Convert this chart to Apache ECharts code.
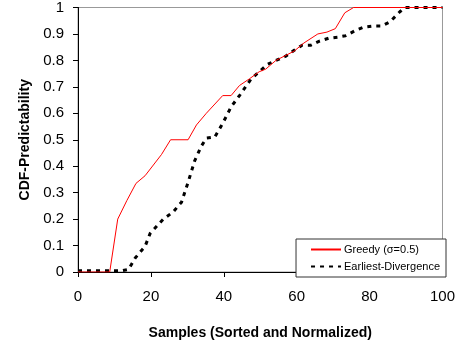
<!DOCTYPE html>
<html><head><meta charset="utf-8">
<script src="https://cdn.jsdelivr.net/npm/echarts@6/dist/echarts.min.js"></script>
<style>html,body{margin:0;padding:0;background:#fff}#c{width:458px;height:345px}</style>
</head><body><div id="c"></div>
<script>
const xTicks = [0, 20, 40, 60, 80, 100];
const yTicks = [0, 0.1, 0.2, 0.3, 0.4, 0.5, 0.6, 0.7, 0.8, 0.9, 1];
const greedyX = [0, 8.7, 10.9, 13.4, 15.9, 18.4, 22.9, 25.4, 30.2, 32.5, 35.2, 39.7, 42.0, 44.3, 47.0, 49.7, 51.5, 54.3, 59.3, 62.0, 65.8, 68.3, 70.6, 73.2, 75.6, 100];
const greedyY = [0, 0, 0.2, 0.27, 0.335, 0.364, 0.444, 0.5, 0.5, 0.556, 0.6, 0.667, 0.667, 0.705, 0.73, 0.757, 0.767, 0.80, 0.835, 0.866, 0.90, 0.907, 0.92, 0.98, 1.0, 1.0];
const earliestX = [0, 12.0, 13.9, 15.7, 18.4, 19.8, 23.4, 26.1, 28.4, 30.2, 32.0, 33.8, 35.2, 37.5, 39.7, 42.0, 44.3, 47.5, 49.7, 52.0, 54.3, 57.0, 59.3, 61.5, 63.8, 66.1, 68.8, 71.3, 73.4, 76.1, 78.3, 81.1, 83.3, 85.6, 88.3, 89.7, 100];
const earliestY = [0.005, 0.005, 0.01, 0.053, 0.097, 0.146, 0.2, 0.227, 0.264, 0.339, 0.42, 0.475, 0.506, 0.51, 0.562, 0.624, 0.667, 0.73, 0.757, 0.785, 0.80, 0.816, 0.838, 0.857, 0.857, 0.872, 0.884, 0.888, 0.893, 0.913, 0.925, 0.93, 0.93, 0.946, 0.984, 1.0, 1.0];
const seriesNames = ['Greedy (σ=0.5)', 'Earliest-Divergence'];

const zip = (a, b) => a.map((v, i) => [v, b[i]]);
const chart = echarts.init(document.getElementById('c'), null, {renderer: 'canvas'});
const font = 'Liberation Sans, Arial, sans-serif';
chart.setOption({
  animation: false,
  textStyle: {fontFamily: font},
  grid: {left: 78, right: 12, top: 7, bottom: 69, show: true, borderColor: '#999', borderWidth: 1, backgroundColor: '#fff'},
  legend: {
    orient: 'vertical', right: 12, top: 239,
    width: 148,
    backgroundColor: '#fff', borderColor: '#333', borderWidth: 1, borderRadius: 0,
    padding: [5, 6, 5, 14], itemGap: 6, itemWidth: 30, itemHeight: 8,
    itemStyle: {opacity: 0, borderWidth: 0},
    textStyle: {fontSize: 11, color: '#000', fontFamily: font, padding: [0, 0, 0, -2]},
    data: seriesNames
  },
  xAxis: {
    type: 'value', min: 0, max: 100, interval: 20,
    name: 'Samples (Sorted and Normalized)', nameLocation: 'middle', nameGap: 54,
    nameTextStyle: {fontSize: 14, fontWeight: 'bold', color: '#000', fontFamily: font},
    axisLine: {show: true, lineStyle: {color: '#000', width: 1}},
    axisTick: {show: true, length: 5, lineStyle: {color: '#000'}},
    axisLabel: {fontSize: 15, color: '#000', margin: 17, formatter: v => xTicks.includes(v) ? String(v) : ''},
    splitLine: {show: false}
  },
  yAxis: {
    type: 'value', min: 0, max: 1, interval: 0.1,
    name: 'CDF-Predictability', nameLocation: 'middle', nameGap: 42,
    nameTextStyle: {fontSize: 14, fontWeight: 'bold', color: '#000', fontFamily: font},
    axisLine: {show: true, lineStyle: {color: '#000', width: 1}},
    axisTick: {show: true, length: 5, lineStyle: {color: '#000'}},
    axisLabel: {fontSize: 15, color: '#000', margin: 14, formatter: v => {
      const t = yTicks.find(y => Math.abs(y - v) < 1e-9); return t === undefined ? '' : String(t);
    }},
    splitLine: {show: false}
  },
  series: [
    {name: seriesNames[0], type: 'line', showSymbol: false, symbol: 'none', data: zip(greedyX, greedyY),
     lineStyle: {color: '#ff0000', width: 1}, itemStyle: {color: '#ff0000'}, z: 3},
    {name: seriesNames[1], type: 'line', showSymbol: false, symbol: 'none', data: zip(earliestX, earliestY),
     lineStyle: {color: '#000', width: 3, type: [4, 5]}, itemStyle: {color: '#000'}, z: 2}
  ]
});
</script></body></html>
